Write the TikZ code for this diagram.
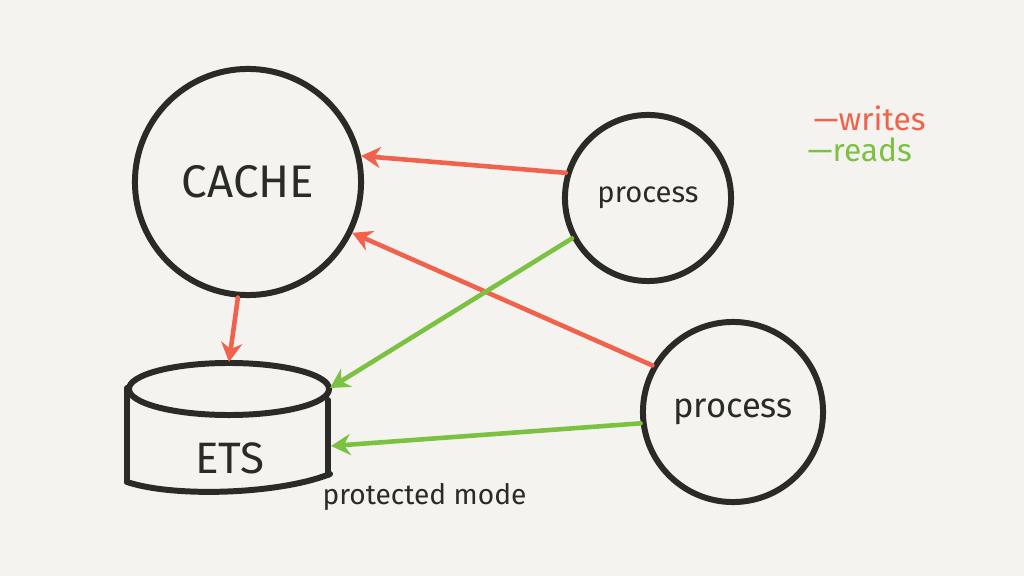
\documentclass[tikz,border=0pt]{standalone}
\usepackage{fontspec}
\setmainfont{Fira Sans}
\usetikzlibrary{arrows.meta}
\definecolor{bg}{HTML}{F4F3EF}
\definecolor{ink}{HTML}{2A2A26}
\definecolor{wr}{HTML}{F0624B}
\definecolor{rd}{HTML}{7CC142}
\begin{document}
\begin{tikzpicture}[x=0.01cm,y=-0.01cm,
  bubble/.style={circle,draw=ink,line width=1.7pt,inner sep=0pt,text=ink},
  writes/.style={draw=wr,line width=1.3pt,line cap=round,-{Stealth[length=5.5pt,width=6pt]}},
  reads/.style={draw=rd,line width=1.3pt,line cap=round,-{Stealth[length=5.5pt,width=6pt]}},
  lbl/.style={text=ink,inner sep=0pt},
  cyl/.style={draw=ink,line width=1.7pt,line cap=round}]
\fill[bg] (0,0) rectangle (1024,576);
\useasboundingbox (0,0) rectangle (1024,576);
% nodes
\node[bubble,minimum size=2.26cm,font=\fontsize{13}{15}\selectfont] (cache) at (248,182) {CACHE};
\node[bubble,minimum size=1.66cm,font=\fontsize{8.3}{10}\selectfont] (p1) at (648,198) {process};
\node[bubble,minimum size=1.80cm,font=\fontsize{9.8}{12}\selectfont] (p2) at (733,412) {process};
% ETS cylinder
\draw[cyl] (229,389) ellipse [x radius=1cm, y radius=0.26cm];
\draw[cyl] (127,388) -- (127,482);
\draw[cyl] (328,400) -- (328,475);
\draw[cyl] (127,482) .. controls (175,498) and (280,494) .. (330,474);
\node[lbl,font=\fontsize{12.5}{14}\selectfont] (ets) at (230,458) {ETS};
\coordinate (etop) at (229,362);
\coordinate (eup) at (330,388);
\coordinate (eside) at (331,446);
\node[lbl,anchor=west,font=\fontsize{8}{10}\selectfont] (pm) at (322,497) {protected mode};
% legend
\node[anchor=west,inner sep=0pt,text=wr,font=\fontsize{9}{11}\selectfont] (lw) at (813,118) {—writes};
\node[anchor=west,inner sep=0pt,text=rd,font=\fontsize{9}{11}\selectfont] (lr) at (807,150) {—reads};
% connectors
\draw[writes] (p1.163) -- (cache.13);
\draw[writes] (p2.150) -- (cache.-26);
\draw[writes] (cache.-95) -- (etop);
\draw[reads] (p1.208) -- (eup);
\draw[reads] (p2.187) -- (eside);
\end{tikzpicture}
\end{document}
